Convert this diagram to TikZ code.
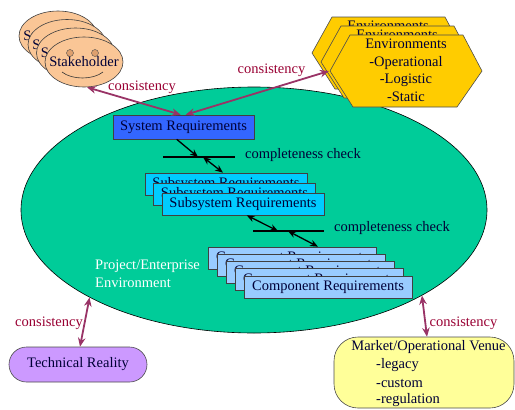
\documentclass[tikz,border=0pt]{standalone}
\usepackage{fontspec}
\setmainfont{Liberation Serif}
\usetikzlibrary{shapes.geometric,arrows.meta,calc}
\definecolor{peach}{RGB}{250,198,150}
\definecolor{peachdark}{RGB}{222,160,110}
\definecolor{gold}{RGB}{255,204,0}
\definecolor{tealg}{RGB}{0,204,153}
\definecolor{sysblue}{RGB}{51,102,255}
\definecolor{subcyan}{RGB}{0,204,255}
\definecolor{compblue}{RGB}{153,204,255}
\definecolor{lavender}{RGB}{204,153,255}
\definecolor{lightyel}{RGB}{255,255,153}
\definecolor{arrowpurple}{RGB}{153,51,102}
\definecolor{consred}{RGB}{153,0,51}
\definecolor{navytext}{RGB}{0,0,55}
\begin{document}
\begin{tikzpicture}[x=1pt,y=-1pt,font=\fontsize{14.5}{17.5}\selectfont,
  face/.style={ellipse,draw=black!75,line width=0.6pt,fill=peach,minimum width=78pt,minimum height=50pt,inner sep=0},
  hexa/.style={draw=black!70,line width=0.6pt,fill=gold},
  reqbox/.style={draw=black!75,line width=0.6pt,inner sep=0,text=navytext},
  sysbox/.style={reqbox,fill=sysblue,minimum width=141pt,minimum height=24pt},
  subbox/.style={reqbox,fill=subcyan,minimum width=162pt,minimum height=22pt},
  compbox/.style={reqbox,fill=compblue,minimum width=168pt,minimum height=22pt},
  conslabel/.style={text=consred,inner sep=0},
  consarrow/.style={draw=arrowpurple,line width=1.8pt,{Stealth[length=9pt,width=7.5pt]}-{Stealth[length=9pt,width=7.5pt]}},
  chkone/.style={draw=black,line width=1.3pt,-{Stealth[length=8pt,width=6.5pt]}},
  chktwo/.style={draw=black,line width=1.3pt,{Stealth[length=8pt,width=6.5pt]}-{Stealth[length=8pt,width=6.5pt]}},
  chkline/.style={draw=black,line width=1.2pt},
  plain/.style={inner sep=0,text=navytext}]
\useasboundingbox (0,0) rectangle (515,410);

% environment ellipse
\node[ellipse,draw=black,line width=0.6pt,fill=tealg,minimum width=466pt,minimum height=246pt,inner sep=0] (envell) at (254,210) {};
\node[anchor=west,align=left,text=white,inner sep=0] (proj) at (95,274) {Project/Enterprise\\Environment};

% stakeholders
\node[face] (sh1) at (58,36) {};
\node[plain] (sh1t) at (sh1) {Stakeholder};
\node[face] (sh2) at (67,44.5) {};
\node[plain] (sh2t) at (sh2) {Stakeholder};
\node[face] (sh3) at (75.5,53) {};
\node[plain] (sh3t) at (sh3) {Stakeholder};
\node[face] (sh4) at (84,62) {};
\node[plain] (sh4t) at (84,61.5) {Stakeholder};
\node[circle,draw=black!70,fill=peachdark,minimum size=7pt,inner sep=0] (eyeL) at (70,53) {};
\node[circle,draw=black!70,fill=peachdark,minimum size=7pt,inner sep=0] (eyeR) at (95,53) {};
\draw[black!80,line width=0.6pt] (62,72) .. controls (72,80) and (93,80) .. (103,72);

% environments hexagons
\begin{scope}[shift={(-18,-18)}]
  \draw[hexa] (330,71) -- (350,35) -- (463,35) -- (482,71) -- (457,107) -- (353,107) -- cycle;
  \node[plain] (envh1) at (406,44) {Environments};
\end{scope}
\begin{scope}[shift={(-9,-9)}]
  \draw[hexa] (330,71) -- (350,35) -- (463,35) -- (482,71) -- (457,107) -- (353,107) -- cycle;
  \node[plain] (envh2) at (406,44) {Environments};
\end{scope}
\draw[hexa] (330,71) -- (350,35) -- (463,35) -- (482,71) -- (457,107) -- (353,107) -- cycle;
\coordinate (envL) at (329,71);
\node[align=center,plain] (envh3) at (406,70.5) {Environments\\-Operational\\-Logistic\\-Static};

% system requirements
\node[sysbox] (sys) at (183.5,127) {System Requirements};

% subsystem boxes
\node[subbox] (sub1) at (226,184) {Subsystem Requirements};
\node[subbox] (sub2) at (234.5,194) {Subsystem Requirements};
\node[subbox] (sub3) at (243,204) {Subsystem Requirements};

% component boxes
\node[compbox] (comp1) at (292,258) {Component Requirements};
\node[compbox] (comp2) at (301,265.25) {Component Requirements};
\node[compbox] (comp3) at (310,272.5) {Component Requirements};
\node[compbox] (comp4) at (319,279.75) {Component Requirements};
\node[compbox] (comp5) at (328,287) {Component Requirements};

% completeness checks
\coordinate (l1L) at (163,157);
\coordinate (l1R) at (235,157);
\coordinate (l1a) at (198,157);
\coordinate (l1b) at (203,157);
\draw[chkline] (l1L) -- (l1R);
\node[anchor=west,plain] (cc1) at (245,155) {completeness check};
\draw[chkone] ($(sys.south west)+(64,0)$) -- (l1a);
\draw[chktwo] (l1b) -- ($(sub1.north)+(-3,0)$);

\coordinate (l2L) at (253,231);
\coordinate (l2R) at (324,231);
\coordinate (l2a) at (278,231);
\coordinate (l2b) at (288,231);
\draw[chkline] (l2L) -- (l2R);
\node[anchor=west,plain] (cc2) at (334,228) {completeness check};
\draw[chktwo] ($(sub3.south west)+(85,0)$) -- (l2a);
\draw[chktwo] (l2b) -- ($(comp1.north)+(26,0)$);

% technical reality
\node[draw=black!70,line width=0.6pt,fill=lavender,rounded corners=17.5pt,minimum width=138pt,minimum height=35pt,inner sep=0,text=navytext] (tech) at (78,364.5) {Technical Reality};

% market
\node[draw=black!70,line width=0.6pt,fill=lightyel,rounded corners=24pt,minimum width=180pt,minimum height=71pt,inner sep=0] (mkt) at (424,372.5) {};
\node[plain] (mkt1) at (428.5,347) {Market/Operational Venue};
\node[plain,anchor=west] (mkt2) at (376,365) {-legacy};
\node[plain,anchor=west] (mkt3) at (376,383) {-custom};
\node[plain,anchor=west] (mkt4) at (376,400) {-regulation};

% consistency arrows
\draw[consarrow] ($(sh4.south)+(3,0)$) -- ($(sys.north west)+(68,0)$);
\draw[consarrow] (envL) -- ($(sys.north west)+(73,0)$);
\draw[consarrow] ($(tech.north)+(2,0)$) -- (envell.-152);
\draw[consarrow] (envell.-27) -- ($(mkt.north)+(3,0)$);
\node[conslabel] (cl1) at (142,87) {consistency};
\node[conslabel] (cl2) at (271.5,70) {consistency};
\node[conslabel] (cl3) at (49,323) {consistency};
\node[conslabel] (cl4) at (463.5,323) {consistency};
\end{tikzpicture}
\end{document}
